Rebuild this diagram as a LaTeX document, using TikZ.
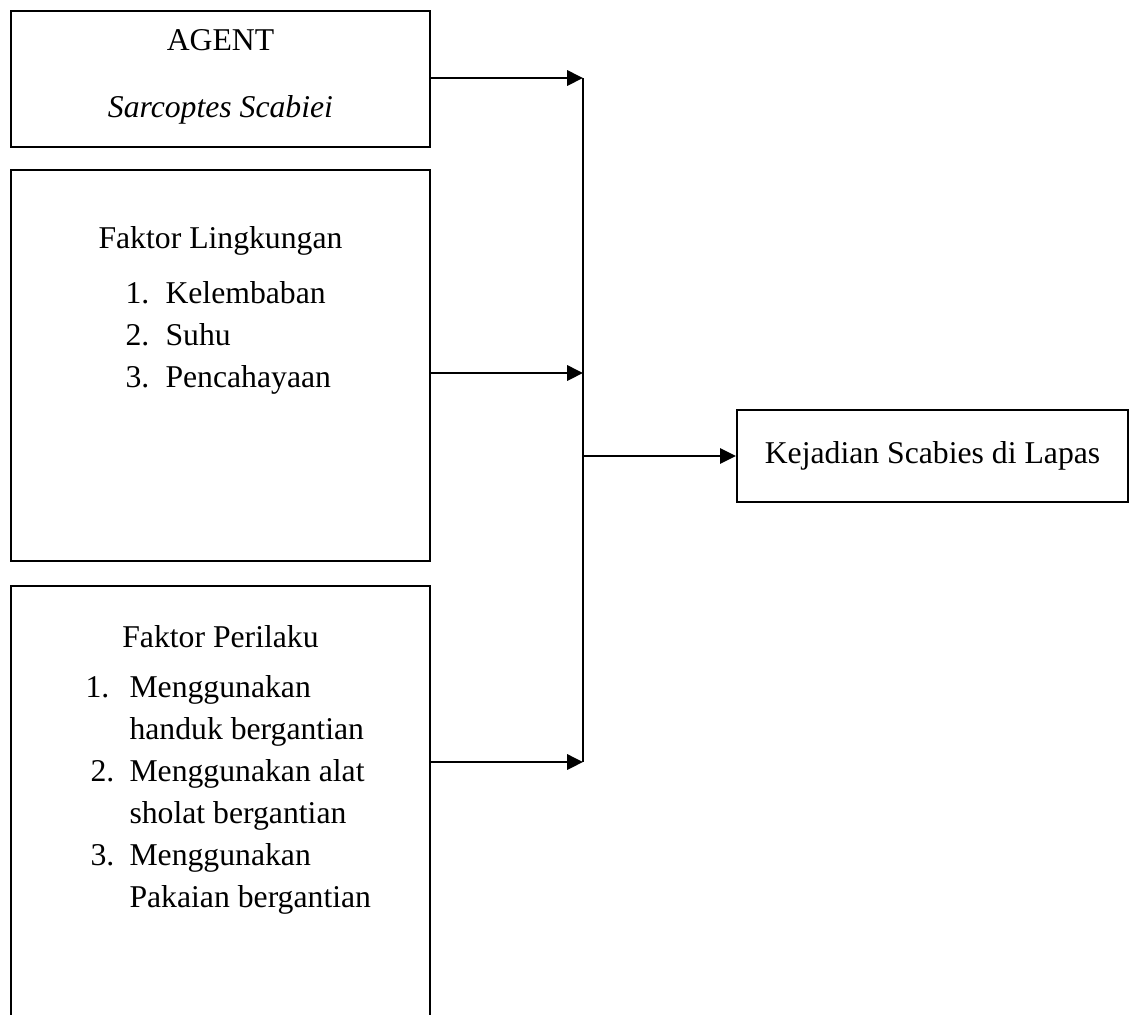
\documentclass[tikz,border=0pt]{standalone}
\usepackage{fontspec}
\setmainfont{Liberation Serif}
\usetikzlibrary{arrows.meta,positioning}

\newcommand{\pxu}{0.3785pt}

\begin{document}
\begin{tikzpicture}[
  x=\pxu, y=-\pxu,
  >={Triangle[length=6pt, width=5.8pt]},
  box/.style={draw, line width=0.85pt, inner sep=0pt},
  txt/.style={font=\fontsize{12}{14}\selectfont, inner sep=0pt, anchor=base},
  itm/.style={txt, anchor=base west},
  conn/.style={line width=0.8pt}
]
\useasboundingbox (0,0) rectangle (1130,1014);

% Left: Agent
\node[box, minimum width=419*\pxu, minimum height=136*\pxu] (agent) at (220.5, 79) {};
\node[txt] (agentT) at (220.5, 50) {AGENT};
\node[txt] (agentS) at (220.5, 117) {\itshape Sarcoptes Scabiei};

% Left: Faktor Lingkungan
\node[box, minimum width=419*\pxu, minimum height=391*\pxu] (lingkungan) at (220.5, 365.5) {};
\node[txt] (lingT) at (220.5, 248) {Faktor Lingkungan};
\foreach \t [count=\i] in {Kelembaban, Suhu, Pencahayaan} {
  \node[itm] (lingN\i) at (125, {261+42*\i}) {\i.};
  \node[itm] (lingI\i) at (165, {261+42*\i}) {\t};
}

% Left: Faktor Perilaku (box runs past the bottom edge)
\node[box, minimum width=419*\pxu, minimum height=454*\pxu] (perilaku) at (220.5, 813) {};
\node[txt] (perT) at (220.5, 647) {Faktor Perilaku};
\foreach \nx/\a/\b [count=\i] in {85/Menggunakan/handuk bergantian, 90/Menggunakan alat/sholat bergantian, 90/Menggunakan/Pakaian bergantian} {
  \node[itm] (perN\i) at (\nx, {613+84*\i}) {\i.};
  \node[itm] (perA\i) at (129, {613+84*\i}) {\a};
  \node[itm] (perB\i) at (129, {655+84*\i}) {\b};
}

% Right: outcome
\node[box, txt, anchor=center, minimum width=391*\pxu, minimum height=92*\pxu] (kejadian) at (932.5, 456) {Kejadian Scabies di Lapas};

% Collector line
\coordinate (busA) at (583, 78);
\coordinate (busB) at (583, 373);
\coordinate (busC) at (583, 762);
\coordinate (busOut) at (583, 456);
\draw[conn] (busA) -- (busC);

\draw[conn, ->] (agent.east |- busA) -- (busA);
\draw[conn, ->] (lingkungan.east |- busB) -- (busB);
\draw[conn, ->] (perilaku.east |- busC) -- (busC);
\draw[conn, ->] (busOut) -- (kejadian.west);

\end{tikzpicture}
\end{document}
